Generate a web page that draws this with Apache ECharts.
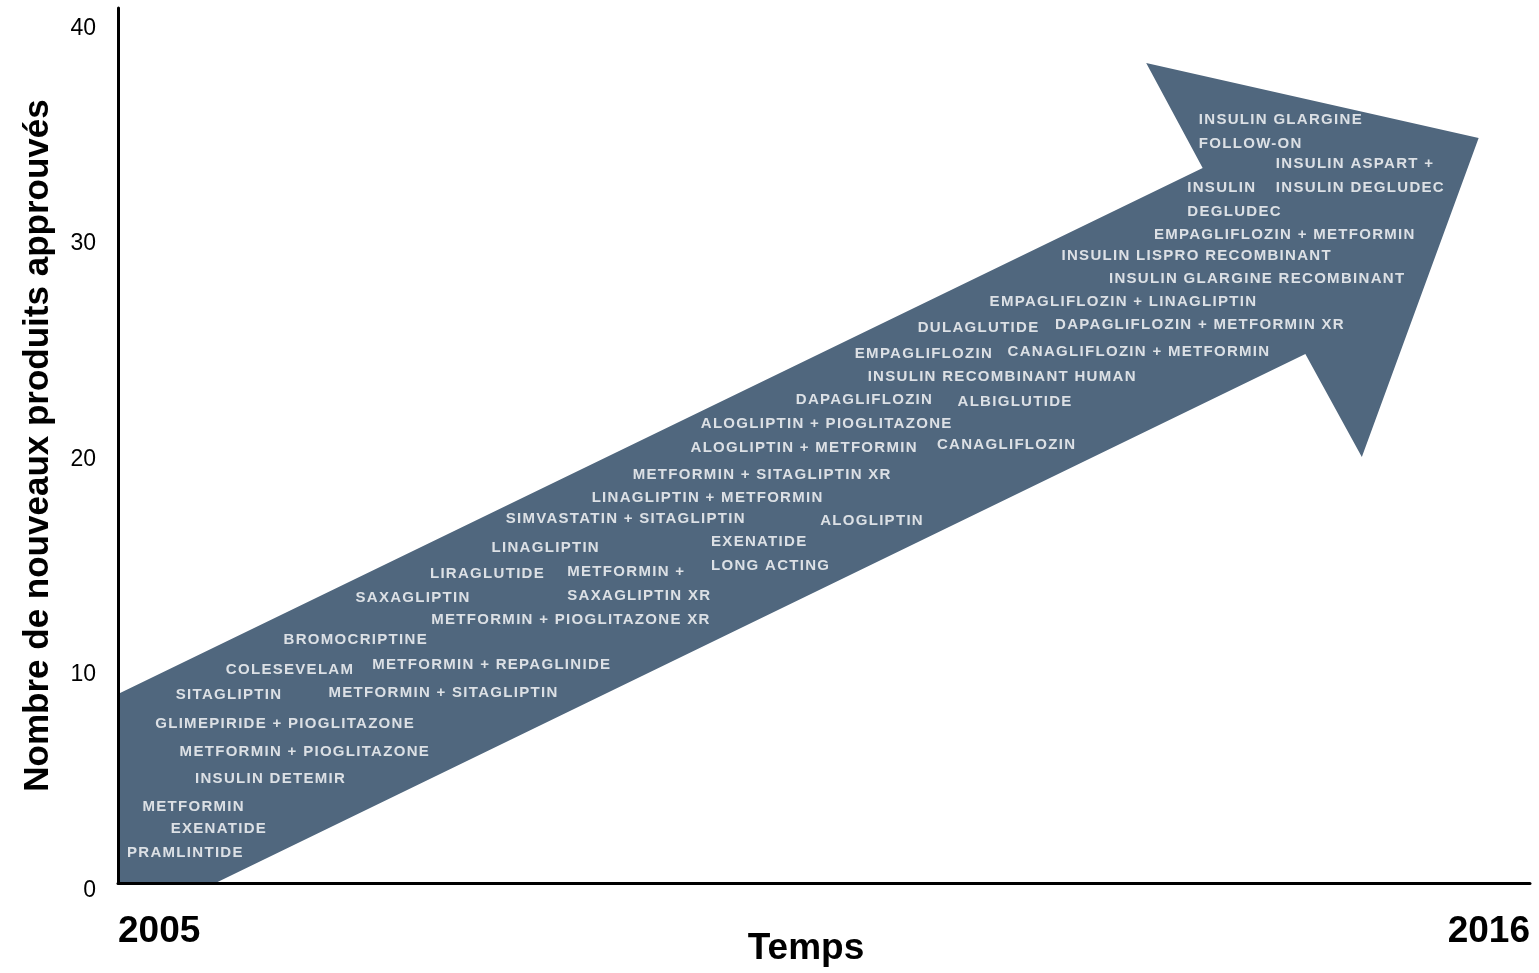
<!DOCTYPE html>
<html>
<head>
<meta charset="utf-8">
<script src="https://cdn.jsdelivr.net/npm/echarts@6/dist/echarts.min.js"></script>
<style>
  html, body { margin: 0; padding: 0; background: #fff; }
  #chart { width: 1539px; height: 973px; }
</style>
</head>
<body>
<div id="chart"></div>
<script>
// Arrow outline, in (year, count) units
const arrowYear  = [2005.00, 2013.45, 2013.01, 2015.60, 2014.69, 2014.25, 2005.76, 2005.00];
const arrowLevel = [8.77, 33.18, 38.05, 34.57, 19.77, 24.55, 0, 0];

// Approved products and where each name sits along the arrow
const products = [
  'PRAMLINTIDE', 'EXENATIDE', 'METFORMIN', 'INSULIN DETEMIR',
  'METFORMIN + PIOGLITAZONE', 'GLIMEPIRIDE + PIOGLITAZONE', 'SITAGLIPTIN',
  'METFORMIN + SITAGLIPTIN', 'COLESEVELAM', 'METFORMIN + REPAGLINIDE',
  'BROMOCRIPTINE', 'METFORMIN + PIOGLITAZONE XR', 'SAXAGLIPTIN',
  'METFORMIN +\nSAXAGLIPTIN XR', 'LIRAGLUTIDE', 'EXENATIDE\nLONG ACTING',
  'LINAGLIPTIN', 'ALOGLIPTIN', 'SIMVASTATIN + SITAGLIPTIN',
  'LINAGLIPTIN + METFORMIN', 'METFORMIN + SITAGLIPTIN XR',
  'ALOGLIPTIN + METFORMIN', 'CANAGLIFLOZIN', 'ALOGLIPTIN + PIOGLITAZONE',
  'DAPAGLIFLOZIN', 'ALBIGLUTIDE', 'INSULIN RECOMBINANT HUMAN',
  'EMPAGLIFLOZIN', 'CANAGLIFLOZIN + METFORMIN', 'DULAGLUTIDE',
  'DAPAGLIFLOZIN + METFORMIN XR', 'EMPAGLIFLOZIN + LINAGLIPTIN',
  'INSULIN GLARGINE RECOMBINANT', 'INSULIN LISPRO RECOMBINANT',
  'EMPAGLIFLOZIN + METFORMIN', 'INSULIN\nDEGLUDEC',
  'INSULIN ASPART +\nINSULIN DEGLUDEC', 'INSULIN GLARGINE\nFOLLOW-ON'
];
const productYear = [
  2005.07, 2005.41, 2005.19, 2005.60,
  2005.48, 2005.29, 2005.45,
  2006.64, 2005.84, 2006.98,
  2006.29, 2007.44, 2006.85,
  2008.50, 2007.43, 2009.62,
  2007.91, 2010.47, 2008.02,
  2008.69, 2009.01,
  2009.46, 2011.38, 2009.54,
  2010.28, 2011.54, 2010.84,
  2010.74, 2011.93, 2011.23,
  2012.30, 2011.79,
  2012.72, 2012.35,
  2013.07, 2013.33,
  2014.02, 2013.42
];
const productLevel = [
  1.39, 2.51, 3.53, 4.83,
  6.08, 7.38, 8.72,
  8.82, 9.88, 10.12,
  11.28, 12.20, 13.23,
  13.87, 14.34, 15.27,
  15.55, 16.80, 16.89,
  17.87, 18.93,
  20.19, 20.32, 21.30,
  22.41, 22.32, 23.48,
  24.55, 24.64, 25.75,
  25.89, 26.96,
  28.03, 29.10,
  30.07, 31.69,
  32.81, 34.87
];

const yTicks = [0, 10, 20, 30, 40];
const yearRange = [2005, 2016];

// White product names are drawn slightly letter-spaced
(function () {
  const proto = CanvasRenderingContext2D.prototype;
  const fill = proto.fillText;
  proto.fillText = function (t, x, y, w) {
    if ('letterSpacing' in this) {
      this.letterSpacing = this.fillStyle === '#ffffff' ? '1.3px' : '0px';
    }
    return w === undefined ? fill.call(this, t, x, y) : fill.call(this, t, x, y, w);
  };
})();

const arrowData = arrowYear.map((x, i) => [x, arrowLevel[i]]);
const labelData = products.map((name, i) => ({ name: name, value: [productYear[i], productLevel[i]] }));

const chart = echarts.init(document.getElementById('chart'), null, { renderer: 'canvas' });
chart.setOption({
  animation: false,
  backgroundColor: '#ffffff',
  grid: { left: 118, right: 9, top: 8, bottom: 90, containLabel: false, outerBoundsMode: 'none' },
  xAxis: {
    type: 'value',
    min: yearRange[0],
    max: yearRange[1],
    interval: yearRange[1] - yearRange[0],
    z: 10,
    splitLine: { show: false },
    axisTick: { show: false },
    axisLine: { lineStyle: { color: '#000', width: 3 } },
    axisLabel: {
      margin: 30,
      color: '#000',
      fontFamily: 'Liberation Sans',
      fontWeight: 'bold',
      fontSize: 37,
      alignMinLabel: 'left',
      alignMaxLabel: 'right',
      formatter: v => String(v)
    },
    name: 'Temps',
    nameLocation: 'middle',
    nameGap: 47,
    nameMoveOverlap: false,
    nameTextStyle: {
      color: '#000',
      fontFamily: 'Liberation Sans',
      fontWeight: 'bold',
      fontSize: 37,
      padding: [0, 36, 0, 0]
    }
  },
  yAxis: {
    type: 'value',
    min: yTicks[0],
    max: 40.6,
    interval: 10,
    z: 10,
    splitLine: { show: false },
    axisTick: { show: false },
    axisLine: { lineStyle: { color: '#000', width: 3 } },
    axisLabel: {
      margin: 22,
      color: '#000',
      fontFamily: 'Liberation Sans',
      fontSize: 23,
      verticalAlign: 'top',
      lineHeight: 15,
      formatter: v => (yTicks.indexOf(v) >= 0 ? String(v) : '')
    },
    name: 'Nombre de nouveaux produits approuvés',
    nameLocation: 'middle',
    nameGap: 62,
    nameTextStyle: {
      color: '#000',
      fontFamily: 'Liberation Sans',
      fontWeight: 'bold',
      fontSize: 35
    }
  },
  series: [
    {
      type: 'custom',
      z: 1,
      silent: true,
      data: [0],
      renderItem: function (params, api) {
        const pts = arrowData.map(p => api.coord(p));
        return {
          type: 'polygon',
          shape: { points: pts },
          style: { fill: '#50677e' }
        };
      }
    },
    {
      type: 'scatter',
      z: 3,
      symbolSize: 0,
      silent: true,
      data: labelData,
      label: {
        show: true,
        position: 'right',
        distance: 0,
        formatter: p => p.name,
        color: '#ffffff',
        fontFamily: 'Liberation Sans',
        fontWeight: 'bold',
        fontSize: 15,
        lineHeight: 24
      }
    }
  ]
});
</script>
</body>
</html>
